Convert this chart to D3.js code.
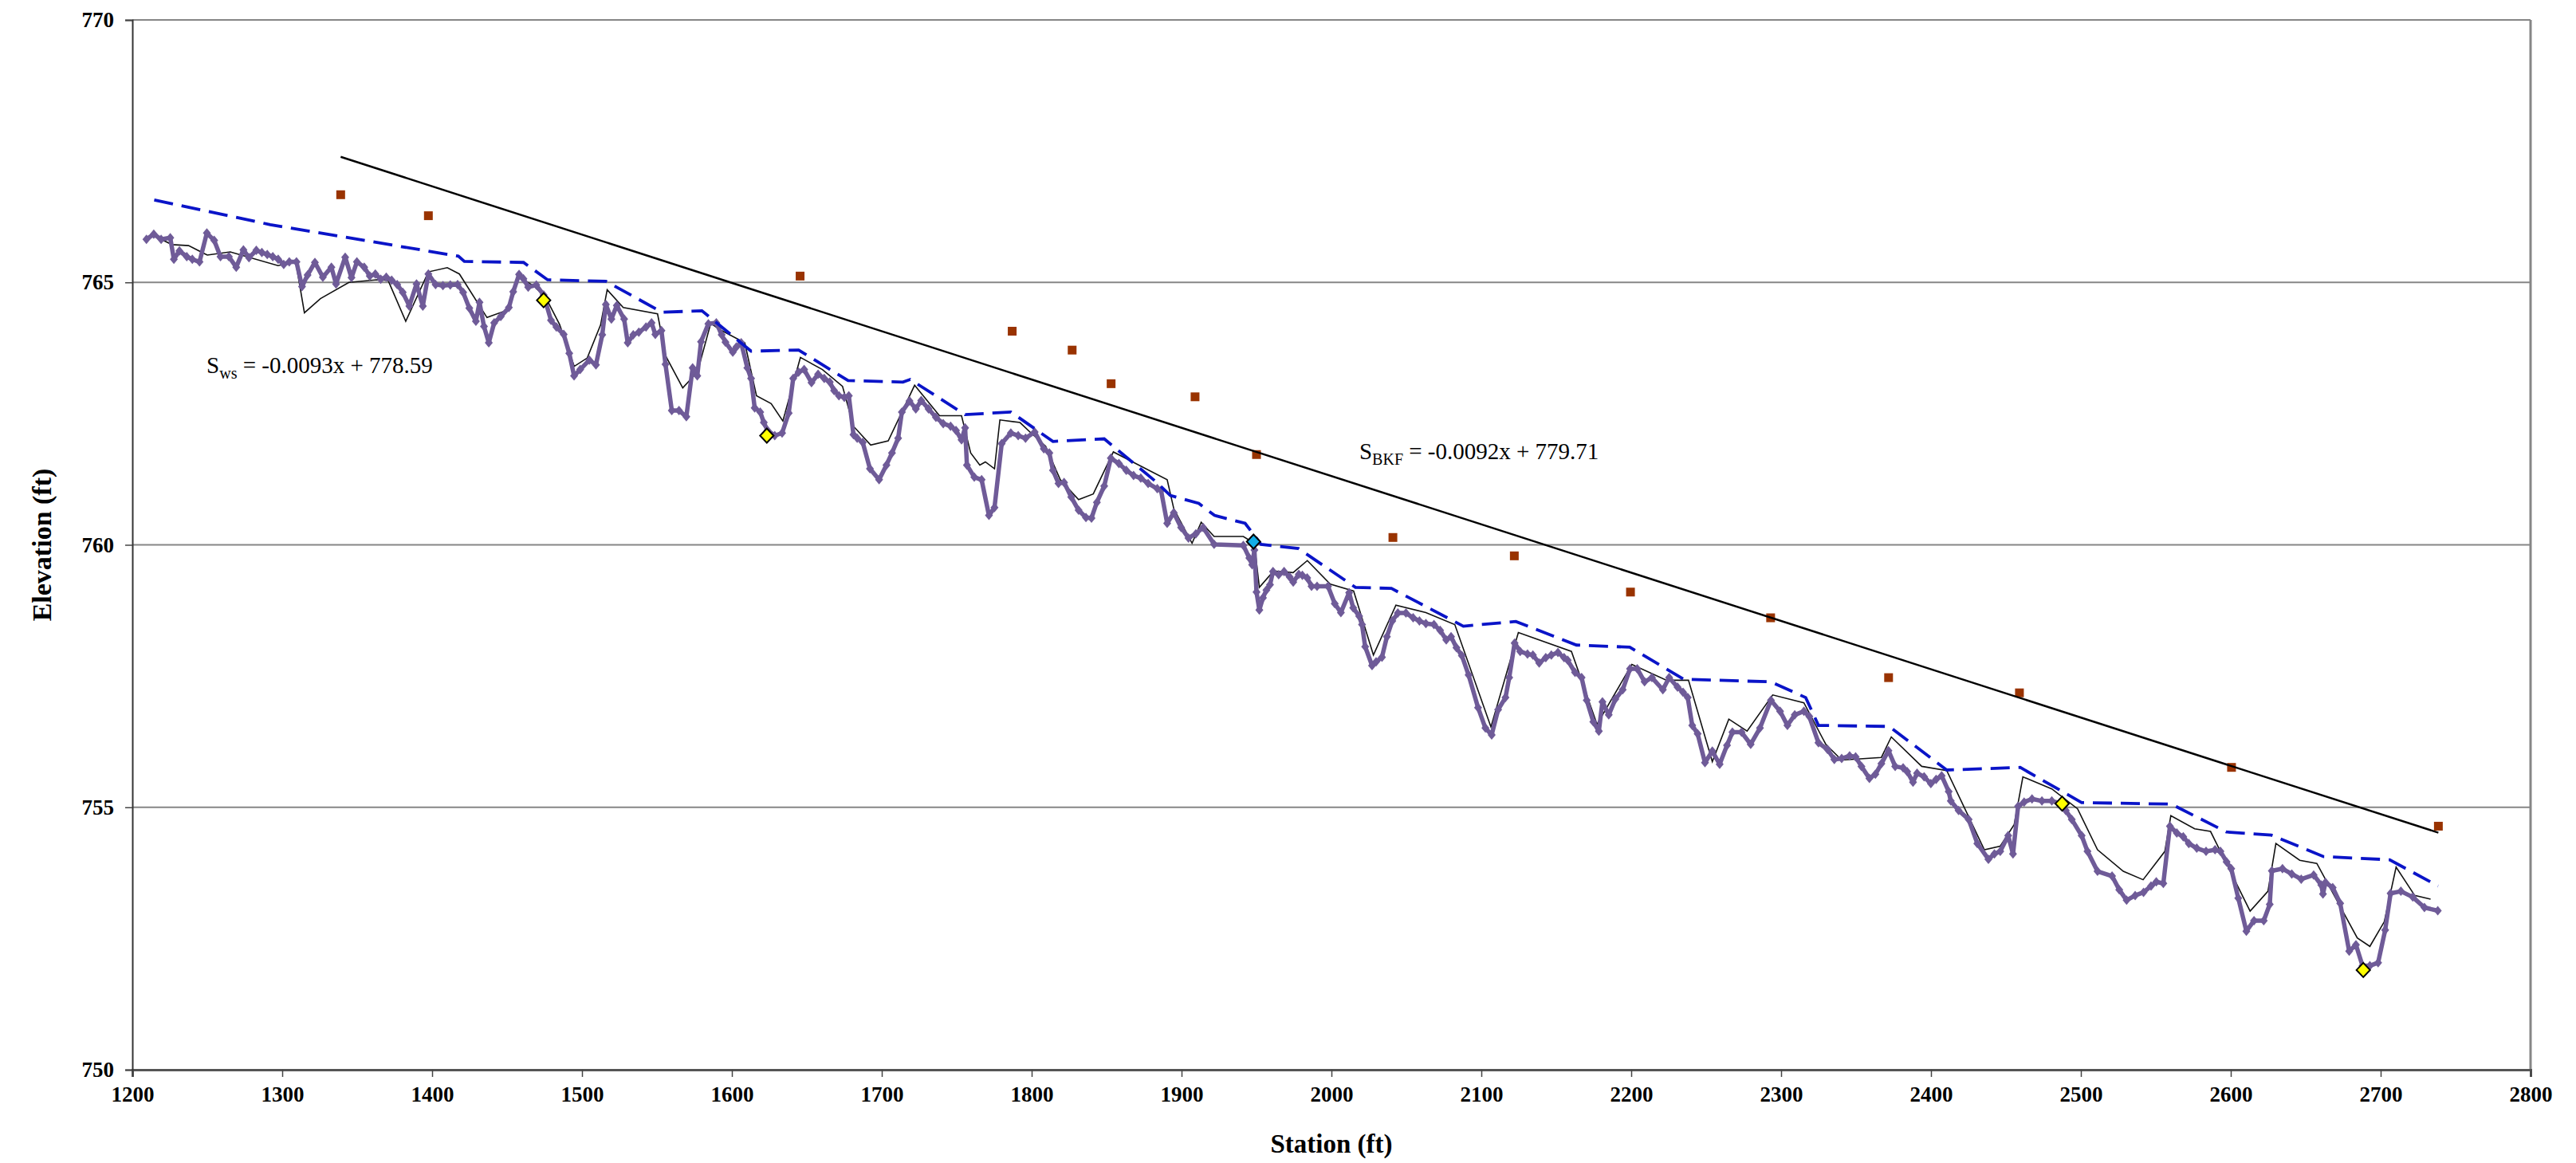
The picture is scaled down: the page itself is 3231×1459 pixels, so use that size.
<!DOCTYPE html>
<html>
<head>
<meta charset="utf-8">
<script src="https://cdn.jsdelivr.net/npm/d3@7"></script>
<style>
  body { margin: 0; background: #fff; }
  text { font-family: "Liberation Serif", "Times New Roman", serif; }
</style>
</head>
<body>
<div id="chart"></div>
<script>
//Axis ticks
var xTicks = [1200, 1300, 1400, 1500, 1600, 1700, 1800, 1900, 2000, 2100, 2200, 2300, 2400, 2500, 2600, 2700, 2800];
var yTicks = [750, 755, 760, 765, 770];

//Surveyed bed profile (station, elevation)
var thalweg = [
  [1209.4,765.82],[1214.3,765.92],[1219.2,765.82],[1225.3,765.85],[1227.7,765.44],[1231.4,765.60],[1236.3,765.49],[1240.0,765.44],
  [1244.8,765.39],[1249.7,765.94],[1254.6,765.80],[1258.8,765.49],[1264.4,765.49],[1269.3,765.29],[1274.1,765.62],[1277.8,765.47],
  [1282.7,765.61],[1286.4,765.57],[1290.0,765.53],[1293.7,765.49],[1297.3,765.44],[1301.0,765.34],[1304.7,765.39],[1309.5,765.39],
  [1313.2,764.92],[1316.9,765.14],[1321.8,765.38],[1327.1,765.10],[1332.8,765.29],[1335.9,764.97],[1342.0,765.48],[1346.2,765.09],
  [1349.8,765.39],[1354.7,765.29],[1358.4,765.12],[1362.1,765.16],[1365.7,765.06],[1369.4,765.10],[1373.0,765.04],[1376.7,764.96],
  [1380.4,764.81],[1384.8,764.55],[1389.6,764.97],[1393.8,764.55],[1397.5,765.16],[1402.3,764.96],[1407.2,764.94],[1412.1,764.95],
  [1417.0,764.96],[1420.7,764.81],[1424.8,764.51],[1429.2,764.26],[1431.6,764.62],[1434.6,764.16],[1437.8,763.85],[1441.4,764.23],
  [1445.8,764.35],[1451.2,764.52],[1454.1,764.82],[1458.0,765.15],[1460.9,765.07],[1464.1,764.91],[1469.5,764.95],[1474.4,764.76],
  [1479.3,764.28],[1482.9,764.15],[1487.8,764.01],[1491.5,763.65],[1494.7,763.22],[1498.8,763.34],[1504.9,763.52],[1509.3,763.43],
  [1513.5,764.00],[1515.9,764.58],[1519.6,764.30],[1523.2,764.56],[1528.1,764.30],[1530.5,763.85],[1534.2,764.00],[1537.9,764.05],
  [1542.7,764.15],[1546.4,764.23],[1548.9,764.01],[1553.0,764.08],[1555.7,763.44],[1559.9,762.56],[1564.7,762.56],[1569.6,762.44],
  [1573.8,763.37],[1576.9,763.22],[1579.4,763.87],[1584.3,764.21],[1589.6,764.23],[1593.2,764.00],[1595.7,763.86],[1600.6,763.67],
  [1603.0,763.77],[1606.2,763.85],[1610.3,763.37],[1612.8,763.17],[1615.2,762.61],[1618.9,762.53],[1621.3,762.33],[1623.8,762.18],
  [1628.6,762.08],[1633.5,762.13],[1637.9,762.51],[1640.9,763.17],[1644.5,763.29],[1648.2,763.34],[1653.1,763.09],[1657.5,763.25],
  [1661.6,763.17],[1665.3,763.10],[1668.2,762.94],[1671.4,762.84],[1675.0,762.81],[1678.0,762.84],[1681.1,762.10],[1683.6,762.03],
  [1687.3,761.95],[1692.1,761.45],[1698.2,761.24],[1703.1,761.52],[1706.8,761.75],[1710.9,762.03],[1713.4,762.53],[1718.5,762.74],
  [1722.7,762.59],[1726.3,762.75],[1731.2,762.59],[1736.1,762.43],[1741.0,762.31],[1745.9,762.26],[1749.5,762.18],[1753.2,762.00],
  [1755.6,762.23],[1756.8,761.52],[1761.7,761.29],[1766.6,761.24],[1771.5,760.56],[1775.2,760.71],[1780.0,761.93],[1786.1,762.13],
  [1791.0,762.08],[1795.9,762.03],[1802.0,762.15],[1808.1,761.83],[1811.8,761.75],[1814.2,761.42],[1817.9,761.17],[1821.6,761.19],
  [1826.4,760.91],[1831.3,760.66],[1836.2,760.52],[1839.9,760.51],[1843.5,760.81],[1848.4,761.12],[1852.8,761.65],[1858.2,761.55],
  [1863.1,761.42],[1868.0,761.32],[1872.8,761.27],[1877.7,761.17],[1883.8,761.07],[1886.3,761.04],[1890.4,760.41],[1894.8,760.61],
  [1899.7,760.33],[1904.6,760.13],[1909.5,760.21],[1914.4,760.33],[1921.7,760.01],[1941.2,759.99],[1945.2,759.75],[1947.1,759.62],
  [1948.6,759.90],[1950.0,759.10],[1951.9,758.76],[1954.3,758.99],[1956.6,759.14],[1959.0,759.24],[1961.0,759.49],[1964.8,759.43],
  [1968.4,759.49],[1972.1,759.39],[1974.5,759.29],[1978.2,759.44],[1980.6,759.42],[1983.8,759.37],[1986.7,759.21],[1990.4,759.21],
  [1997.7,759.21],[2002.2,758.88],[2006.3,758.71],[2011.8,759.09],[2014.5,758.80],[2018.5,758.64],[2020.4,758.48],[2022.5,758.06],
  [2027.1,757.70],[2029.8,757.77],[2033.7,757.86],[2037.0,758.25],[2040.6,758.55],[2044.3,758.70],[2049.7,758.70],[2054.5,758.61],
  [2058.7,758.55],[2063.0,758.50],[2068.4,758.48],[2072.5,758.37],[2076.6,758.19],[2079.8,758.25],[2083.4,758.04],[2087.0,757.89],
  [2091.5,757.52],[2097.8,756.90],[2102.7,756.51],[2106.9,756.38],[2111.2,756.86],[2116.1,757.09],[2118.6,757.47],[2122.2,758.13],
  [2125.9,757.97],[2130.8,757.92],[2134.4,757.90],[2138.6,757.75],[2143.0,757.85],[2146.7,757.90],[2151.1,757.95],[2155.2,757.85],
  [2157.6,757.80],[2162.5,757.57],[2166.9,757.47],[2170.3,757.04],[2174.7,756.63],[2178.4,756.45],[2180.8,757.01],[2185.0,756.76],
  [2189.4,757.06],[2194.3,757.24],[2199.2,757.64],[2204.0,757.64],[2208.9,757.39],[2213.8,757.47],[2221.1,757.24],[2225.3,757.47],
  [2230.9,757.29],[2234.6,757.19],[2237.7,757.09],[2240.7,756.56],[2244.3,756.40],[2249.2,755.85],[2254.1,756.07],[2259.0,755.82],
  [2263.9,756.18],[2267.5,756.43],[2273.6,756.43],[2279.7,756.20],[2285.9,756.51],[2293.2,757.04],[2299.3,756.83],[2304.2,756.56],
  [2309.1,756.76],[2315.2,756.83],[2318.8,756.73],[2324.9,756.23],[2331.0,756.10],[2335.5,755.91],[2340.4,755.93],[2345.7,755.98],
  [2349.7,755.96],[2353.6,755.78],[2358.9,755.55],[2362.9,755.63],[2366.9,755.83],[2371.6,756.08],[2376.1,755.78],[2381.4,755.75],
  [2384.1,755.68],[2388.0,755.48],[2390.7,755.65],[2395.4,755.58],[2399.9,755.45],[2403.4,755.53],[2407.1,755.60],[2411.8,755.30],
  [2413.2,755.12],[2418.4,754.94],[2425.1,754.77],[2430.9,754.31],[2438.3,754.01],[2442.3,754.11],[2446.2,754.16],[2451.5,754.46],
  [2454.7,754.11],[2458.1,755.02],[2462.1,755.10],[2467.4,755.16],[2474.0,755.12],[2480.6,755.12],[2487.2,755.07],[2489.9,754.94],
  [2493.9,754.77],[2500.5,754.46],[2504.4,754.16],[2511.1,753.78],[2520.8,753.69],[2525.6,753.43],[2530.5,753.23],[2536.2,753.32],
  [2541.8,753.38],[2546.8,753.50],[2550.3,753.58],[2555.0,753.55],[2559.4,754.64],[2564.0,754.51],[2568.3,754.44],[2572.0,754.31],
  [2577.3,754.22],[2583.5,754.16],[2589.5,754.19],[2593.1,754.16],[2597.2,753.96],[2600.3,753.83],[2605.0,753.27],[2610.4,752.64],
  [2615.5,752.84],[2622.0,752.84],[2626.0,753.15],[2627.4,753.79],[2634.5,753.83],[2640.7,753.73],[2647.0,753.63],[2655.3,753.71],
  [2660.4,753.52],[2661.5,753.35],[2663.2,753.57],[2668.0,753.47],[2673.0,753.17],[2679.0,752.26],[2683.5,752.38],[2687.9,751.98],
  [2692.8,751.98],[2698.3,752.04],[2703.0,752.66],[2706.6,753.36],[2713.5,753.40],[2721.4,753.29],[2729.2,753.09],[2738.1,753.03]
];

//Earlier bed profile (thin black line)
var priorProfile = [
  [1217,765.85],[1226.5,765.72],[1237.5,765.70],[1250,765.52],[1265.3,765.58],[1297.2,765.32],[1309,765.39],[1314.8,764.42],
  [1325.5,764.69],[1344.5,765.00],[1363.2,765.05],[1370.6,765.04],[1382.4,764.26],[1397.5,765.20],[1410.1,765.28],[1418.2,765.16],
  [1436.6,764.33],[1450,764.47],[1458,765.10],[1468,764.93],[1476,764.70],[1485,764.20],[1494.8,763.40],[1503.5,763.56],
  [1512.4,764.19],[1516.8,764.86],[1527.5,764.52],[1550.4,764.40],[1555.8,763.60],[1567.2,762.99],[1577,763.29],[1585.9,764.22],
  [1592,764.10],[1608.6,763.85],[1616.4,762.84],[1626.2,762.69],[1634,762.36],[1645.7,763.57],[1660.4,763.34],[1673.8,763.02],
  [1681.1,762.26],[1692.6,761.90],[1704.3,761.98],[1721.9,763.04],[1738.5,762.46],[1753.2,762.46],[1759.3,761.75],[1765.4,761.52],
  [1769.1,761.58],[1775.2,761.45],[1778.8,762.38],[1792.2,762.33],[1799.6,762.13],[1809.3,761.88],[1819.1,761.24],[1831.3,760.86],
  [1841.1,760.97],[1854.5,761.77],[1872.8,761.50],[1890.4,761.24],[1894.8,760.69],[1907,760.03],[1913.1,760.43],[1921.7,760.16],
  [1941.2,760.16],[1948.5,760.03],[1951.9,759.19],[1961.4,759.50],[1974.4,759.47],[1983.9,759.70],[1999.2,759.25],[2014.8,759.12],
  [2028,757.90],[2043,758.85],[2063,758.71],[2082.3,758.48],[2106.4,756.53],[2124.7,758.33],[2160.1,757.97],[2177.2,756.58],
  [2200.4,757.72],[2223.6,757.42],[2238.2,757.42],[2254.1,755.87],[2265.1,756.68],[2277.3,756.45],[2294.4,757.14],[2315.2,756.99],
  [2329.8,756.20],[2340.4,755.90],[2366.9,755.95],[2373.5,756.34],[2393.8,755.78],[2410.5,755.70],[2435.6,754.19],[2446.2,754.26],
  [2455.5,754.67],[2461.3,755.58],[2480.6,755.35],[2497.8,754.97],[2511.1,754.19],[2528.3,753.78],[2541.5,753.62],[2556,754.16],
  [2560,754.84],[2575.9,754.59],[2586.5,754.54],[2612.9,753.02],[2624.8,753.40],[2630.1,754.31],[2646,753.99],[2657.4,753.93],
  [2684.4,752.51],[2692.8,752.35],[2702.4,752.82],[2710.3,753.86],[2722.7,753.32],[2733.3,753.25]
];

//Water surface (blue dashed)
var waterSurface = [
  [1214.6,766.57],[1292,766.10],[1417.5,765.50],[1421.5,765.40],[1461,765.38],[1477,765.05],[1516,765.02],[1553.5,764.43],
  [1580,764.46],[1612.8,763.69],[1644.5,763.71],[1677.5,763.13],[1714.1,763.10],[1719,763.15],[1755.6,762.48],[1786.1,762.53],
  [1814.2,761.97],[1848.4,762.02],[1883,761.20],[1892.5,760.94],[1911.5,760.79],[1922,760.56],[1942.4,760.41],[1953,760.01],
  [1978,759.93],[2016,759.19],[2040,759.17],[2088,758.45],[2123,758.54],[2163.5,758.09],[2199,758.05],[2235,757.44],
  [2293.2,757.39],[2316.4,757.09],[2324.9,756.56],[2372.1,756.54],[2410.5,755.71],[2459.5,755.76],[2500.5,755.09],[2560.3,755.06],
  [2597.1,754.53],[2627,754.47],[2662,754.06],[2706,754.00],[2738.3,753.50]
];

//Bankfull indicators
var bankfull = [
  [1339,766.67],[1397.5,766.27],[1645.5,765.12],[1787,764.07],[1827,763.71],[1853,763.07],[1909,762.82],[1950,761.72],
  [2041,760.14],[2122,759.79],[2199.5,759.10],[2293,758.61],[2371.7,757.47],[2459,757.18],[2600.5,755.76],[2738.5,754.64]
];

//Highlighted bed points
var yellowPoints = [[1474.4,764.66],[1623.3,762.08],[2487.5,755.07],[2688.4,751.90]];
var bluePoints = [[1948.0,760.06]];

//Bankfull regression
var bkfSlope = -0.0092, bkfIntercept = 779.71;

//Set dimensions
var width = 3231,
    height = 1459,
    margin = {top: 25, right: 57, bottom: 117, left: 166},
    innerW = width - margin.left - margin.right,
    innerH = height - margin.top - margin.bottom;

var x = d3.scaleLinear().domain([1200, 2800]).range([0, innerW]);
var y = d3.scaleLinear().domain([750, 770]).range([innerH, 0]);

var svg = d3.select("#chart").append("svg")
    .attr("width", width)
    .attr("height", height)
    .style("background", "#fff");

var g = svg.append("g")
    .attr("transform", "translate(" + margin.left + "," + margin.top + ")");

//Gridlines
g.selectAll(".grid")
    .data(yTicks.filter(function (d) { return d > 750; }))
    .enter().append("line")
    .attr("x1", 0).attr("x2", innerW)
    .attr("y1", function (d) { return y(d); })
    .attr("y2", function (d) { return y(d); })
    .attr("stroke", "#868686")
    .attr("stroke-width", 2);

//Right border
g.append("line")
    .attr("x1", innerW).attr("x2", innerW)
    .attr("y1", 0).attr("y2", innerH)
    .attr("stroke", "#868686")
    .attr("stroke-width", 3);

//Axes
var xAxis = g.append("g")
    .attr("transform", "translate(0," + innerH + ")")
    .call(d3.axisBottom(x).tickValues(xTicks).tickSize(9).tickPadding(12).tickFormat(d3.format("d")));
xAxis.select(".domain").attr("stroke", "#555").attr("stroke-width", 3);
xAxis.selectAll(".tick line").attr("stroke", "#444").attr("stroke-width", 1.5);

var yAxis = g.append("g")
    .call(d3.axisLeft(y).tickValues(yTicks).tickSize(9).tickPadding(14).tickFormat(d3.format("d")));
yAxis.select(".domain").attr("stroke", "#333").attr("stroke-width", 2);
yAxis.selectAll(".tick line").attr("stroke", "#444").attr("stroke-width", 1.5);

svg.selectAll(".tick text")
    .style("font-family", "'Liberation Serif', 'Times New Roman', serif")
    .style("font-size", "27px")
    .style("font-weight", "bold")
    .attr("fill", "#000");

var line = d3.line()
    .x(function (d) { return x(d[0]); })
    .y(function (d) { return y(d[1]); });

//Earlier profile
g.append("path")
    .datum(priorProfile)
    .attr("d", line)
    .attr("fill", "none")
    .attr("stroke", "#111")
    .attr("stroke-width", 1.6);

//Bed profile with markers
g.append("path")
    .datum(thalweg)
    .attr("d", line)
    .attr("fill", "none")
    .attr("stroke", "#6f5b98")
    .attr("stroke-width", 5.5)
    .attr("stroke-linejoin", "round");

g.selectAll(".bedMark")
    .data(thalweg)
    .enter().append("path")
    .attr("class", "bedMark")
    .attr("d", "M0,-6L5,0L0,6L-5,0Z")
    .attr("transform", function (d) { return "translate(" + x(d[0]) + "," + y(d[1]) + ")"; })
    .attr("fill", "#6f5b98");

//Water surface
g.append("path")
    .datum(waterSurface)
    .attr("d", line)
    .attr("fill", "none")
    .attr("stroke", "#0a14c8")
    .attr("stroke-width", 3.8)
    .attr("stroke-dasharray", "24,11");

//Bankfull squares
g.selectAll(".bkf")
    .data(bankfull)
    .enter().append("rect")
    .attr("x", function (d) { return x(d[0]) - 5.5; })
    .attr("y", function (d) { return y(d[1]) - 5.5; })
    .attr("width", 11)
    .attr("height", 11)
    .attr("fill", "#993300");

//Bankfull trend line
var bkfRange = d3.extent(bankfull, function (d) { return d[0]; });
g.append("path")
    .datum(bkfRange.map(function (s) { return [s, bkfSlope * s + bkfIntercept]; }))
    .attr("d", line)
    .attr("stroke", "#000")
    .attr("stroke-width", 2.5);

//Highlighted diamonds
var diamond = "M0,-9L8.5,0L0,9L-8.5,0Z";
g.selectAll(".yel")
    .data(yellowPoints)
    .enter().append("path")
    .attr("d", diamond)
    .attr("transform", function (d) { return "translate(" + x(d[0]) + "," + y(d[1]) + ")"; })
    .attr("fill", "#ffff00")
    .attr("stroke", "#000")
    .attr("stroke-width", 2);

g.selectAll(".cyan")
    .data(bluePoints)
    .enter().append("path")
    .attr("d", diamond)
    .attr("transform", function (d) { return "translate(" + x(d[0]) + "," + y(d[1]) + ")"; })
    .attr("fill", "#12aee8")
    .attr("stroke", "#000")
    .attr("stroke-width", 2);

//Equation labels
function eqLabel(px, py, sub, rest) {
    var t = g.append("text")
        .attr("x", px)
        .attr("y", py)
        .style("font-size", "29px")
        .attr("fill", "#000");
    t.append("tspan").text("S");
    t.append("tspan").attr("dy", 7).style("font-size", "20px").text(sub);
    t.append("tspan").attr("dy", -7).text(" = " + rest);
}
eqLabel(x(1249.5), y(763.27), "ws", "-0.0093x + 778.59");
eqLabel(x(2018.6), y(761.63), "BKF", "-0.0092x + 779.71");

//Axis titles
svg.append("text")
    .attr("transform", "translate(64," + (margin.top + innerH / 2) + ") rotate(-90)")
    .attr("text-anchor", "middle")
    .style("font-size", "34px")
    .style("font-weight", "bold")
    .text("Elevation (ft)");

svg.append("text")
    .attr("x", margin.left + innerW / 2)
    .attr("y", 1446)
    .attr("text-anchor", "middle")
    .style("font-size", "33px")
    .style("font-weight", "bold")
    .text("Station (ft)");
</script>
</body>
</html>
